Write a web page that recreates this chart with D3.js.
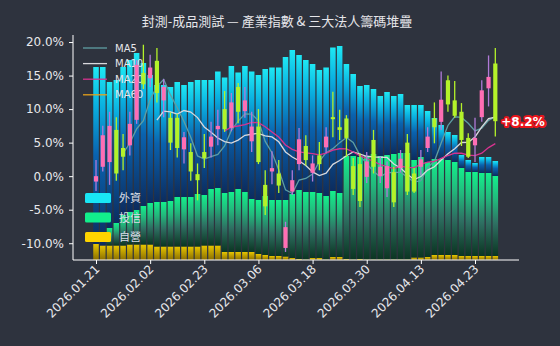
<!DOCTYPE html>
<html>
<head>
<meta charset="utf-8">
<script src="https://cdn.jsdelivr.net/npm/d3@7"></script>
<style>
  html, body { margin: 0; padding: 0; background: #2e333e; }
  svg { display: block; }
</style>
</head>
<body>
<svg id="chart" width="560" height="346"></svg>
<script>
// Trading days shown on the chart
const dates = [
  "2026.01.21","2026.01.22","2026.01.23","2026.01.26","2026.01.27","2026.01.28","2026.01.29","2026.01.30",
  "2026.02.02","2026.02.03","2026.02.04","2026.02.05","2026.02.06","2026.02.09","2026.02.10","2026.02.11",
  "2026.02.23","2026.02.24","2026.02.25","2026.02.26","2026.03.02","2026.03.03","2026.03.04","2026.03.05",
  "2026.03.06","2026.03.09","2026.03.10","2026.03.11","2026.03.12","2026.03.13","2026.03.16","2026.03.17",
  "2026.03.18","2026.03.19","2026.03.20","2026.03.23","2026.03.24","2026.03.25","2026.03.26","2026.03.27",
  "2026.03.30","2026.03.31","2026.04.01","2026.04.02","2026.04.07","2026.04.08","2026.04.09","2026.04.10",
  "2026.04.13","2026.04.14","2026.04.15","2026.04.16","2026.04.17","2026.04.20","2026.04.21","2026.04.22",
  "2026.04.23","2026.04.24","2026.04.27","2026.04.28"
];

// Industry index, % change vs. start (OHLC)
const open = [-0.8,1.4,2.1,6.9,4.2,4.6,8.4,15.4,14.6,17.2,11.3,8.7,8.7,4.0,3.6,0.3,
  3.6,4.4,7.0,10.0,7.2,13.3,9.7,5.2,7.4,-1.3,0.7,0.4,-10.7,-2.3,1.8,4.5,
  0.5,3.1,4.3,8.8,7.3,8.6,1.5,1.8,-0.1,5.4,0.0,-1.8,0.6,1.2,5.0,0.4,
  1.4,4.2,8.6,8.1,14.3,11.3,9.6,5.7,4.6,8.8,13.1,16.8];
const close = [0.0,6.1,7.5,0.4,2.9,7.8,16.6,13.7,16.2,12.4,13.3,5.0,4.2,5.8,0.7,-0.6,
  2.7,5.9,7.5,7.0,11.0,9.6,11.3,7.4,2.1,-4.5,1.2,-1.4,-7.6,-0.6,5.5,2.4,
  1.9,1.8,5.9,8.5,6.9,5.7,-1.9,-3.7,2.2,1.4,1.4,1.5,-3.9,2.6,-2.3,-2.3,
  2.5,5.9,7.3,11.4,10.7,9.0,5.4,2.9,5.7,12.8,14.8,8.2];
const high = [2.4,7.5,9.6,8.8,6.3,9.6,17.3,19.6,18.1,19.1,14.5,9.5,9.3,6.6,4.9,1.9,
  6.3,8.1,9.9,12.7,12.4,13.9,13.3,9.6,10.0,0.9,3.7,2.4,-6.8,0.9,7.2,6.1,
  3.1,5.1,7.3,12.6,9.9,9.1,2.7,3.4,3.6,6.9,2.9,2.2,1.4,3.9,6.3,1.2,
  3.9,7.3,11.0,15.6,15.0,14.2,10.9,6.4,8.7,14.3,18.0,19.1];
const low = [-2.2,0.7,-1.3,-0.7,0.9,3.1,7.8,13.0,13.3,11.0,8.8,3.9,2.8,1.9,-0.7,-3.6,
  1.2,2.8,4.6,6.6,6.7,7.9,8.7,3.6,1.8,-5.8,-1.2,-2.5,-11.3,-2.8,0.9,1.6,
  -0.8,0.9,3.4,5.8,5.4,2.9,-2.8,-4.6,-1.0,0.4,-1.0,-3.1,-4.6,0.6,-2.8,-2.5,
  0.1,3.6,4.9,6.9,9.6,8.7,4.5,2.7,2.1,8.1,10.4,5.9];

// Institutional holdings (stacked, hidden secondary scale)
const foreign = [35.4,35.7,29.2,28.6,29.6,30.4,31.4,28.6,25.6,23.4,23.4,22.8,23.0,22.4,23.0,22.8,
  23.0,21.8,23.3,23.1,25.2,23.3,25.2,25.5,25.0,25.4,26.5,26.5,28.6,28.8,27.0,26.4,
  25.6,24.6,25.7,28.7,29.4,18.4,16.4,14.2,14.2,13.0,12.0,12.6,11.6,11.8,9.6,11.0,
  10.4,10.2,8.2,6.8,5.6,5.4,2.6,2.4,1.8,3.2,3.2,3.0];
const trust = [0.0,0.0,3.5,4.5,6.1,6.5,6.9,7.7,8.3,8.9,8.9,9.1,9.9,9.9,9.9,10.5,
  10.1,11.3,11.5,11.8,12.0,12.6,12.0,10.6,10.8,11.8,11.2,11.2,11.3,12.8,13.8,13.5,
  13.2,13.0,12.7,13.2,12.8,20.6,20.7,20.4,20.7,21.1,20.7,20.9,21.1,21.3,21.3,19.5,
  20.1,19.0,19.2,19.2,19.0,18.6,17.6,16.8,16.8,16.6,16.6,16.0];
const dealer = [3.2,2.9,2.9,2.9,2.9,3.1,3.1,3.1,3.1,2.7,2.7,2.7,2.7,2.7,2.7,2.7,
  2.9,2.9,2.9,1.6,1.6,1.6,1.6,1.6,1.2,1.0,0.8,0.8,0.7,0.4,0.2,0.1,
  0.4,0.4,0.1,0.6,0.6,0.2,0.1,0.2,0.1,0.1,0.1,0.1,0.1,0.1,0.1,0.5,
  0.5,0.6,1.0,1.0,1.0,1.0,0.8,0.8,0.8,0.8,0.8,0.8];

const yTicks = [-10, -5, 0, 5, 10, 15, 20];
const xTickIndex = [0, 8, 16, 24, 32, 40, 48, 56];
const maSpecs = [
  { label: "MA5", n: 5, color: "#5f9ea3" },
  { label: "MA10", n: 10, color: "#d8d8dc" },
  { label: "MA20", n: 20, color: "#d6338f" },
  { label: "MA60", n: 60, color: "#e6a11a" }
];
const instLegend = [
  { label: "外資", color: "#19e6f5" },
  { label: "投信", color: "#12ef8c" },
  { label: "自營", color: "#ffd400" }
];

const svg = d3.select("#chart");
const W = 560, H = 346;
const plot = { left: 73, right: 519, top: 35, bottom: 260 };

svg.append("rect").attr("width", W).attr("height", H).attr("fill", "#2e333e");

const x = d3.scaleLinear().domain([-3.4, 62.5]).range([plot.left, plot.right]);
const y = d3.scaleLinear().domain([-12.5, 21.05]).range([plot.bottom, plot.top]);
const y2 = d3.scaleLinear().domain([0, 45]).range([plot.bottom, plot.top]);
const step = x(1) - x(0);

// gradients for stacked bars
const defs = svg.append("defs");
function grad(id, stops) {
  const g = defs.append("linearGradient").attr("id", id)
    .attr("x1", 0).attr("y1", 0).attr("x2", 0).attr("y2", 1);
  stops.forEach(([o, c]) => g.append("stop").attr("offset", o).attr("stop-color", c));
}
grad("g-foreign", [[0, "#1ee8f4"], [0.22, "#0ab0e0"], [0.5, "#0a62ae"], [1, "#0c2c5e"]]);
grad("g-trust", [[0, "#14f08c"], [0.3, "#22b87c"], [0.6, "#2e6f62"], [1, "#0b3522"]]);
grad("g-dealer", [[0, "#e8c600"], [1, "#8a6e00"]]);

const rows = dates.map((d, i) => ({ i, dealer: dealer[i], trust: trust[i], foreign: foreign[i] }));
const stack = d3.stack().keys(["dealer", "trust", "foreign"])(rows);
const fills = { dealer: "url(#g-dealer)", trust: "url(#g-trust)", foreign: "url(#g-foreign)" };

const barW = step * 0.82;
const barG = svg.append("g");
stack.forEach(layer => {
  barG.append("g").selectAll("rect")
    .data(layer.filter(d => d[1] - d[0] > 0))
    .join("rect")
    .attr("x", d => x(d.data.i) - barW / 2)
    .attr("width", barW)
    .attr("y", d => y2(d[1]))
    .attr("height", d => y2(d[0]) - y2(d[1]))
    .attr("fill", fills[layer.key]);
});

// institutional legend (bottom-left)
const il = svg.append("g");
instLegend.forEach((d, k) => {
  const cy = 198 + k * 19.5;
  il.append("rect").attr("x", 85).attr("y", cy - 5).attr("width", 26).attr("height", 10)
    .attr("rx", 1.5).attr("fill", d.color);
  il.append("text").attr("x", 119).attr("y", cy + 4).text(d.label)
    .attr("fill", "#d8dce4").attr("font-size", 11)
    .attr("font-family", "'Noto Sans CJK TC', sans-serif");
});

// moving-average legend (top-left)
const ml = svg.append("g");
maSpecs.forEach((m, k) => {
  const cy = 48 + k * 15.6;
  ml.append("line").attr("x1", 83).attr("x2", 107).attr("y1", cy).attr("y2", cy)
    .attr("stroke", m.color).attr("stroke-width", 1.3);
  ml.append("text").attr("x", 115).attr("y", cy + 3.6).text(m.label)
    .attr("fill", "#e6e6ea").attr("font-size", 10)
    .attr("font-family", "'DejaVu Sans', sans-serif");
});

// moving averages of close
function movingAvg(n) {
  return close.map((c, i) => i < n - 1 ? null : d3.mean(close.slice(i - n + 1, i + 1)));
}
const line = d3.line().defined(d => d.v != null).x(d => x(d.i)).y(d => y(d.v)).curve(d3.curveLinear);
maSpecs.forEach(m => {
  const vals = movingAvg(m.n).map((v, i) => ({ i, v }));
  svg.append("path").datum(vals).attr("d", line)
    .attr("fill", "none").attr("stroke", m.color).attr("stroke-width", 1.3);
});

// candlesticks
const candles = dates.map((d, i) => ({ i, o: open[i], c: close[i], h: high[i], l: low[i] }));
const cG = svg.append("g");
const bodyW = 4.2;
cG.selectAll("line").data(candles).join("line")
  .attr("x1", d => x(d.i)).attr("x2", d => x(d.i))
  .attr("y1", d => y(d.h)).attr("y2", d => y(d.l))
  .attr("stroke", d => d.c >= d.o ? "#b07ad8" : "#b4f22a")
  .attr("stroke-width", 1.3);
cG.selectAll("rect").data(candles).join("rect")
  .attr("x", d => x(d.i) - bodyW / 2).attr("width", bodyW)
  .attr("y", d => y(Math.max(d.o, d.c)))
  .attr("height", d => Math.max(1, Math.abs(y(d.o) - y(d.c))))
  .attr("fill", d => d.c >= d.o ? "#ff6eb4" : "#b4f22a");

// axes
const axisColor = "#ffffff";
const yAxis = svg.append("g").attr("transform", `translate(${plot.left},0)`)
  .call(d3.axisLeft(y).tickValues(yTicks).tickFormat(d => d.toFixed(1) + "%").tickSize(4).tickPadding(5));
const xAxis = svg.append("g").attr("transform", `translate(0,${plot.bottom})`)
  .call(d3.axisBottom(x).tickValues(xTickIndex).tickFormat(i => dates[i]).tickSize(4).tickPadding(4));
[yAxis, xAxis].forEach(a => {
  a.select(".domain").remove();
  a.selectAll(".tick line").attr("stroke", axisColor).attr("stroke-width", 1);
  a.selectAll("text").attr("fill", "#e8e8ec").attr("font-size", 12)
    .attr("font-family", "'DejaVu Sans', sans-serif");
});
svg.append("line").attr("x1", plot.left).attr("x2", plot.left).attr("y1", plot.top).attr("y2", plot.bottom)
  .attr("stroke", axisColor).attr("stroke-width", 1);
svg.append("line").attr("x1", plot.left).attr("x2", plot.right).attr("y1", plot.bottom).attr("y2", plot.bottom)
  .attr("stroke", axisColor).attr("stroke-width", 1);
xAxis.selectAll("text")
  .attr("text-anchor", "end")
  .attr("transform", "translate(-2,4) rotate(-45)")
  .attr("dy", "0.35em").attr("y", 4);

// last close label
const lastI = close.length - 1;
svg.append("text").attr("x", x(lastI) + 6).attr("y", y(close[lastI]) + 4.5)
  .text((close[lastI] >= 0 ? "+" : "") + close[lastI].toFixed(1) + "%")
  .attr("fill", "#ffffff").attr("font-size", 12).attr("font-weight", "bold")
  .attr("font-family", "'DejaVu Sans', sans-serif")
  .attr("stroke", "#e8141a").attr("stroke-width", 4).attr("stroke-linejoin", "round")
  .attr("paint-order", "stroke");

// title
svg.append("text").attr("x", 277).attr("y", 26).attr("text-anchor", "middle")
  .text("封測-成品測試 — 產業指數 & 三大法人籌碼堆疊")
  .attr("fill", "#e6e6ea").attr("font-size", 13)
  .attr("font-family", "'Noto Sans CJK TC', sans-serif");
</script>
</body>
</html>
